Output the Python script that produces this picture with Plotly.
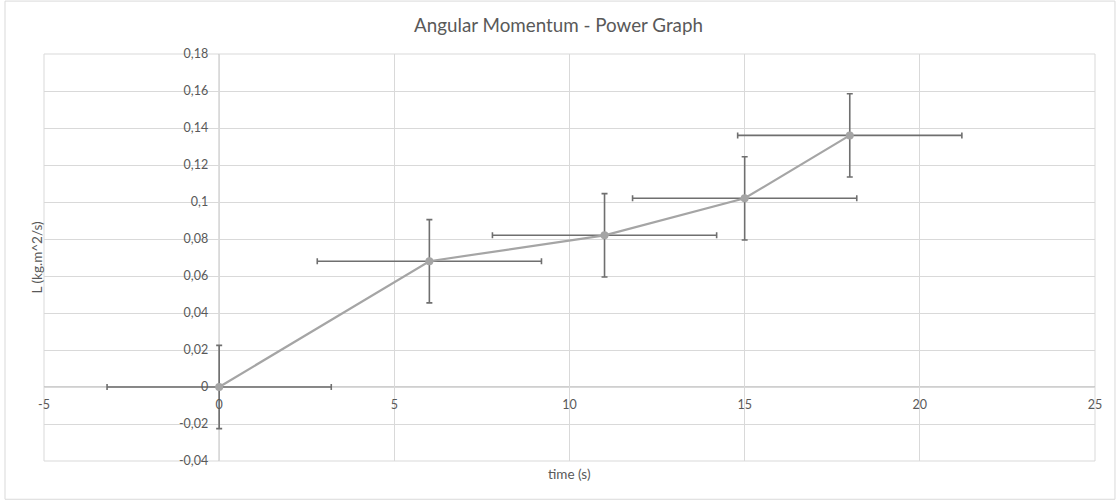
import plotly.graph_objects as go

# Data
time_s = [0, 6, 11, 15, 18]
ang_mom = [0.0, 0.068, 0.082, 0.102, 0.136]
time_err = [3.2, 3.2, 3.2, 3.2, 3.2]
L_err = [0.0225, 0.0225, 0.0225, 0.0225, 0.0225]

x_ticks = [-5, 0, 5, 10, 15, 20, 25]
x_tick_text = ["-5", "0", "5", "10", "15", "20", "25"]
y_ticks = [-0.04, -0.02, 0, 0.02, 0.04, 0.06, 0.08, 0.10, 0.12, 0.14, 0.16, 0.18]
y_tick_text = ["-0,04", "-0,02", "0", "0,02", "0,04", "0,06", "0,08", "0,1",
               "0,12", "0,14", "0,16", "0,18"]

x_range = [-5, 25]
y_range = [-0.04, 0.18]

FONT = "Lato"
LABEL_COLOR = "#595959"
GRID = "#d9d9d9"

fig = go.Figure()
fig.add_trace(go.Scatter(
    x=time_s, y=ang_mom, mode="lines+markers",
    line=dict(color="#a5a5a5", width=2.2),
    marker=dict(color="#a5a5a5", size=8),
    error_x=dict(type="data", array=time_err, color="#6f6f6f", thickness=1.6, width=3),
    error_y=dict(type="data", array=L_err, color="#6f6f6f", thickness=1.6, width=3),
    showlegend=False,
))

x_pos = (0 - x_range[0]) / (x_range[1] - x_range[0])
y_pos = (0 - y_range[0]) / (y_range[1] - y_range[0])

fig.update_layout(
    width=1117, height=501,
    margin=dict(l=44, r=22, t=54, b=40),
    paper_bgcolor="white", plot_bgcolor="white",
    font=dict(family=FONT, color=LABEL_COLOR, size=12),
    title=dict(text="Angular Momentum - Power Graph", x=0.5, xanchor="center",
               y=0.95, yanchor="middle", font=dict(family=FONT, size=18.8, color="#595959")),
    xaxis=dict(
        range=x_range, tickvals=x_ticks, ticktext=x_tick_text,
        showgrid=True, gridcolor=GRID, gridwidth=1,
        zeroline=False, showline=False,
        anchor="free", position=y_pos,
        ticks="", ticklen=0, ticklabelstandoff=8,
        tickfont=dict(family=FONT, size=12.5, color=LABEL_COLOR),
        fixedrange=True,
    ),
    yaxis=dict(
        range=y_range, tickvals=y_ticks, ticktext=y_tick_text,
        showgrid=True, gridcolor=GRID, gridwidth=1,
        zeroline=False, showline=False,
        anchor="free", position=x_pos,
        ticks="", ticklen=0, ticklabelstandoff=11,
        tickfont=dict(family=FONT, size=12.5, color=LABEL_COLOR),
        fixedrange=True,
    ),
    shapes=[
        # plot area border
        dict(type="rect", xref="paper", yref="paper", x0=0, x1=1, y0=0, y1=1,
             line=dict(color=GRID, width=1), layer="below"),
        # horizontal axis line at y=0
        dict(type="line", xref="paper", yref="y", x0=0, x1=1, y0=0, y1=0,
             line=dict(color="#bfbfbf", width=1.3), layer="below"),
        # vertical axis line at x=0
        dict(type="line", xref="x", yref="paper", x0=0, x1=0, y0=0, y1=1,
             line=dict(color="#bfbfbf", width=1.3), layer="below"),
        # outer chart border
        dict(type="rect", xref="paper", yref="paper",
             x0=-0.0371, x1=1.019, y0=-0.094, y1=1.130,
             line=dict(color="#d9d9d9", width=1), layer="below"),
    ],
    annotations=[
        dict(text="time (s)", xref="paper", yref="paper", x=0.5, y=-0.008,
             xanchor="center", yanchor="top", showarrow=False,
             font=dict(family=FONT, size=13.5, color=LABEL_COLOR)),
        dict(text="L (kg.m^2/s)", xref="paper", yref="paper", x=-0.0076, y=0.5,
             xanchor="center", yanchor="middle", textangle=-90, showarrow=False,
             font=dict(family=FONT, size=13.5, color=LABEL_COLOR)),
    ],
)

fig.write_html("out.html", config={"displayModeBar": False})
